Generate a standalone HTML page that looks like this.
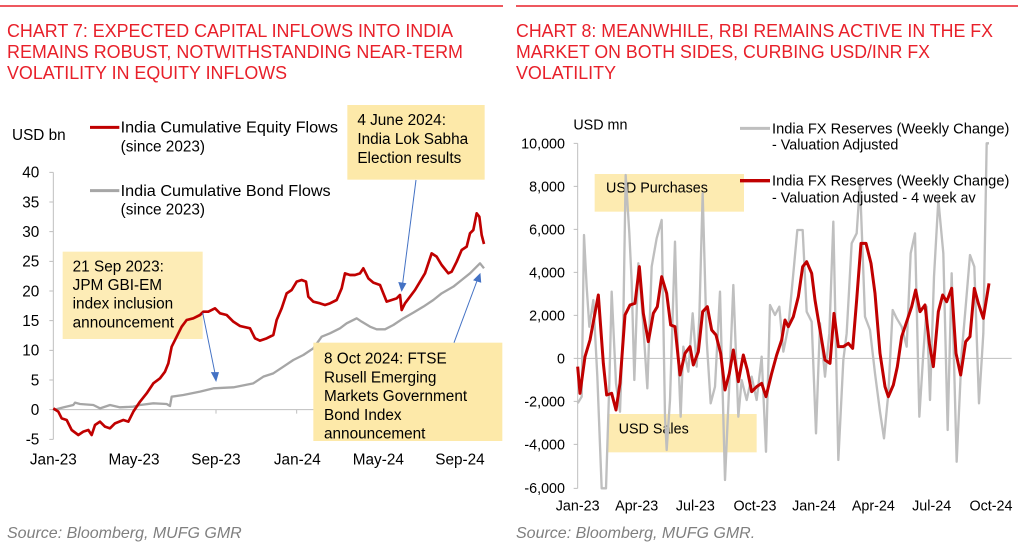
<!DOCTYPE html>
<html><head><meta charset="utf-8"><style>
html,body{margin:0;padding:0;background:#fff;}
svg{display:block;font-family:"Liberation Sans",Arial,sans-serif;}
</style></head><body>
<svg width="1022" height="553" viewBox="0 0 1022 553" xmlns="http://www.w3.org/2000/svg">
<rect width="1022" height="553" fill="#fff"/>
<line x1="0" y1="6" x2="503" y2="6" stroke="#e8202a" stroke-width="1.5"/>
<line x1="516" y1="6" x2="1018" y2="6" stroke="#e8202a" stroke-width="1.5"/>
<g fill="#e8202a" font-size="18">
<text x="7" y="37" textLength="446" lengthAdjust="spacingAndGlyphs">CHART 7: EXPECTED CAPITAL INFLOWS INTO INDIA</text>
<text x="7" y="58" textLength="456" lengthAdjust="spacingAndGlyphs">REMAINS ROBUST, NOTWITHSTANDING NEAR-TERM</text>
<text x="7" y="79" textLength="280" lengthAdjust="spacingAndGlyphs">VOLATILITY IN EQUITY INFLOWS</text>
<text x="516" y="37" textLength="477" lengthAdjust="spacingAndGlyphs">CHART 8: MEANWHILE, RBI REMAINS ACTIVE IN THE FX</text>
<text x="516" y="58" textLength="414" lengthAdjust="spacingAndGlyphs">MARKET ON BOTH SIDES, CURBING USD/INR FX</text>
<text x="516" y="79" textLength="100" lengthAdjust="spacingAndGlyphs">VOLATILITY</text>
</g>
<g fill="#7f7f7f" font-size="16" font-style="italic">
<text x="7" y="538">Source: Bloomberg, MUFG GMR</text>
<text x="516" y="538">Source: Bloomberg, MUFG GMR.</text>
</g>

<!-- LEFT CHART -->
<svg x="0" y="100" width="510" height="380" viewBox="0 0 1530 1140">
<g stroke="#bfbfbf" stroke-width="3" fill="none">
<line x1="160" y1="217" x2="160" y2="1018"/>
<line x1="160" y1="929" x2="1452" y2="929"/>
<path d="M148 217h12M148 306h12M148 395h12M148 484h12M148 573h12M148 662h12M148 751h12M148 840h12M148 929h12M148 1018h12"/>
<path d="M400 929v12M648 929v12M890 929v12M1135 929v12M1380 929v12"/>
</g>
<g font-size="46" fill="#000" text-anchor="end">
<text x="118" y="233">40</text><text x="118" y="322">35</text><text x="118" y="411">30</text><text x="118" y="500">25</text><text x="118" y="589">20</text><text x="118" y="678">15</text><text x="118" y="767">10</text><text x="118" y="856">5</text><text x="118" y="945">0</text><text x="118" y="1034">-5</text>
</g>
<g font-size="46" fill="#000" text-anchor="middle">
<text x="160" y="1094">Jan-23</text><text x="402" y="1094">May-23</text><text x="648" y="1094">Sep-23</text><text x="892" y="1094">Jan-24</text><text x="1135" y="1094">May-24</text><text x="1380" y="1094">Sep-24</text>
</g>
<text x="36" y="120" font-size="46">USD bn</text>
<line x1="270" y1="82" x2="358" y2="82" stroke="#c00000" stroke-width="9"/>
<text x="362" y="98" font-size="46" textLength="652" lengthAdjust="spacingAndGlyphs">India Cumulative Equity Flows</text>
<text x="362" y="154" font-size="46">(since 2023)</text>
<line x1="270" y1="272" x2="358" y2="272" stroke="#a6a6a6" stroke-width="9"/>
<text x="362" y="288" font-size="46" textLength="630" lengthAdjust="spacingAndGlyphs">India Cumulative Bond Flows</text>
<text x="362" y="344" font-size="46">(since 2023)</text>
<polyline fill="none" stroke="#a6a6a6" stroke-width="7" stroke-linejoin="round" points="160,930 190,922 220,915 225,908 240,912 280,915 300,925 330,915 360,922 400,920 420,915 460,910 500,912 510,918 515,890 550,885 600,875 640,865 700,862 760,850 790,830 820,820 850,800 880,780 910,765 940,745 965,710 990,700 1020,685 1040,670 1070,655 1085,665 1110,680 1130,688 1155,688 1180,675 1210,655 1240,638 1270,620 1300,600 1325,580 1360,560 1385,540 1410,520 1440,490 1452,505"/>
<rect x="188" y="455" width="420" height="262" fill="#fde9a9" opacity="0.85"/>
<polyline fill="none" stroke="#c00000" stroke-width="8" stroke-linejoin="round" points="160,925 175,935 185,955 200,960 215,990 235,1005 250,995 265,990 275,1005 285,975 300,965 315,980 330,985 345,970 370,960 385,965 400,935 420,905 440,880 460,850 480,835 495,815 505,790 515,740 530,710 545,680 560,660 580,655 600,645 610,635 625,635 645,625 660,640 680,645 700,665 720,678 750,685 765,715 780,722 800,715 820,705 830,660 845,625 860,580 875,570 890,545 905,540 918,545 925,590 940,605 960,610 975,615 990,610 1010,600 1025,565 1035,520 1050,525 1065,525 1080,520 1090,505 1105,535 1120,548 1140,555 1150,580 1160,605 1175,600 1190,595 1200,585 1205,630 1215,610 1230,590 1245,570 1260,545 1275,520 1295,460 1310,470 1325,495 1345,520 1355,515 1370,485 1385,450 1400,440 1410,400 1420,390 1430,340 1438,350 1445,405 1452,432"/>
<g font-size="46" fill="#000">
<text x="218" y="514">21 Sep 2023:</text><text x="218" y="570">JPM GBI-EM</text><text x="218" y="626">index inclusion</text><text x="218" y="682">announcement</text>
</g>
<rect x="1042" y="15" width="412" height="224" fill="#fde9a9"/>
<g font-size="46" fill="#000"><text x="1072" y="75">4 June 2024:</text><text x="1072" y="132">India Lok Sabha</text><text x="1072" y="189">Election results</text></g>
<rect x="940" y="728" width="567" height="295" fill="#fde9a9"/>
<g font-size="46" fill="#000"><text x="972" y="790">8 Oct 2024: FTSE</text><text x="972" y="847">Rusell Emerging</text><text x="972" y="903">Markets Government</text><text x="972" y="960">Bond Index</text><text x="972" y="1015">announcement</text></g>
<g stroke="#4472c4" stroke-width="3" fill="#4472c4">
<line x1="608" y1="638" x2="645" y2="820"/><polygon points="635,818 655,818 648,842"/>
<line x1="1248" y1="240" x2="1208" y2="550"/><polygon points="1197,548 1217,551 1205,572"/>
<line x1="1362" y1="728" x2="1432" y2="540"/><polygon points="1422,540 1442,546 1440,522"/>
</g>
</svg>

<!-- RIGHT CHART -->
<svg x="510" y="100" width="512" height="420" viewBox="0 0 1536 1260">
<g stroke="#bfbfbf" stroke-width="3" fill="none">
<line x1="203" y1="130" x2="203" y2="1165"/>
<line x1="203" y1="775" x2="1505" y2="775"/>
<path d="M191 130h12M191 259h12M191 388h12M191 517h12M191 646h12M191 775h12M191 904h12M191 1033h12M191 1165h12"/>
</g>
<g font-size="43" fill="#000" text-anchor="end">
<text x="165" y="145">10,000</text><text x="165" y="274">8,000</text><text x="165" y="403">6,000</text><text x="165" y="532">4,000</text><text x="165" y="661">2,000</text><text x="165" y="790">0</text><text x="165" y="919">-2,000</text><text x="165" y="1048">-4,000</text><text x="165" y="1179">-6,000</text>
</g>
<g font-size="43" fill="#000" text-anchor="middle">
<text x="203" y="1232">Jan-23</text><text x="380" y="1232">Apr-23</text><text x="556" y="1232">Jul-23</text><text x="735" y="1232">Oct-23</text><text x="912" y="1232">Jan-24</text><text x="1090" y="1232">Apr-24</text><text x="1265" y="1232">Jul-24</text><text x="1443" y="1232">Oct-24</text>
</g>
<text x="190" y="88" font-size="43">USD mn</text>
<rect x="254" y="222" width="448" height="113" fill="#fde9a9" opacity="0.9"/>
<rect x="292" y="942" width="448" height="115" fill="#fde9a9" opacity="0.9"/>
<text x="288" y="278" font-size="43">USD Purchases</text>
<text x="326" y="1000" font-size="43">USD Sales</text>
<polyline fill="none" stroke="#bfbfbf" stroke-width="7" stroke-linejoin="round" points="203,910 215,890 222,405 230,560 238,680 250,600 262,830 275,1165 288,1165 298,850 305,575 318,850 330,935 340,660 347,225 358,400 365,545 373,840 385,490 398,650 412,865 425,500 440,415 455,360 465,950 470,1050 480,900 495,425 502,700 512,950 520,740 535,815 548,640 560,800 568,650 578,280 590,720 602,910 615,860 630,575 645,1140 658,850 670,555 685,950 695,840 710,900 725,830 740,900 755,770 768,1055 780,615 795,645 808,620 820,755 835,680 850,520 862,390 878,390 890,635 905,665 918,1000 930,670 945,830 958,700 970,365 985,1080 1000,780 1010,700 1025,430 1040,400 1050,250 1065,650 1080,690 1095,820 1110,935 1122,1015 1135,880 1148,630 1160,655 1175,680 1190,740 1202,460 1215,400 1228,950 1240,760 1250,620 1260,900 1272,530 1285,300 1300,460 1313,990 1325,520 1340,1085 1355,760 1367,620 1380,465 1393,500 1407,910 1420,700 1430,130 1437,130"/>
<polyline fill="none" stroke="#c00000" stroke-width="9" stroke-linejoin="round" points="203,800 210,880 225,770 240,720 265,585 280,790 290,885 305,880 318,930 330,850 345,645 360,615 375,610 388,500 400,640 415,725 430,640 442,620 455,530 470,580 482,675 495,680 510,825 525,760 540,740 550,795 565,755 578,635 592,620 605,690 618,705 632,760 645,870 658,820 670,750 685,845 700,765 712,810 725,875 740,860 755,850 768,890 785,820 800,765 815,720 825,660 835,680 850,650 865,590 878,500 890,485 905,520 915,600 930,690 945,780 960,790 972,640 985,740 1000,740 1015,730 1028,745 1040,600 1053,430 1068,430 1083,490 1095,580 1110,760 1125,860 1135,890 1150,855 1162,800 1175,710 1190,665 1205,620 1217,570 1230,635 1245,615 1258,730 1270,800 1285,635 1298,585 1310,605 1325,565 1338,760 1352,825 1367,725 1380,710 1393,565 1405,610 1420,655 1437,550"/>
<line x1="690" y1="85" x2="780" y2="85" stroke="#bfbfbf" stroke-width="9"/>
<text x="786" y="100" font-size="43" textLength="712" lengthAdjust="spacingAndGlyphs">India FX Reserves (Weekly Change)</text>
<text x="786" y="149" font-size="43">- Valuation Adjusted</text>
<line x1="690" y1="242" x2="780" y2="242" stroke="#c00000" stroke-width="10"/>
<text x="786" y="257" font-size="43" textLength="712" lengthAdjust="spacingAndGlyphs">India FX Reserves (Weekly Change)</text>
<text x="786" y="307" font-size="43">- Valuation Adjusted - 4 week av</text>
</svg>
</svg>
</body></html>
